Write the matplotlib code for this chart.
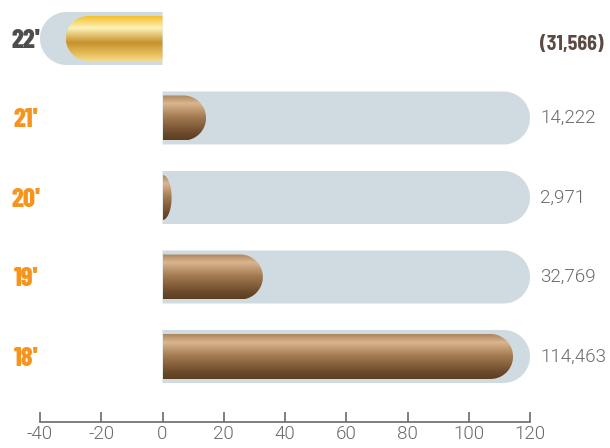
import numpy as np
import matplotlib
matplotlib.use('Agg')
import matplotlib.pyplot as plt
from matplotlib.patches import Polygon
from matplotlib.colors import LinearSegmentedColormap

years = ["22'", "21'", "20'", "19'", "18'"]
values = [-31.566, 14.222, 2.971, 32.769, 114.463]
value_labels = ['(31,566)', '14,222', '2,971', '32,769', '114,463']
xticks = [-40, -20, 0, 20, 40, 60, 80, 100, 120]

COND = ['Barlow Condensed', 'DejaVu Sans']
SEMI = ['Barlow Semi Condensed', 'DejaVu Sans']
LIGHT = ['Roboto', 'DejaVu Sans']
track_col = '#d0dbe1'
gold = LinearSegmentedColormap.from_list('gold', [
    (0.0, '#f4bb22'), (0.28, '#fdf2b8'), (0.6, '#c6922c'),
    (0.88, '#e9c462'), (1.0, '#f5dc90')])
bronze = LinearSegmentedColormap.from_list('bronze', [
    (0.0, '#a48058'), (0.2, '#dab58e'), (0.5, '#a27a52'),
    (0.85, '#6c4a2a'), (1.0, '#5c3e22')])

fig = plt.figure(figsize=(6.10, 4.48), dpi=100)
ax = fig.add_axes([40 / 610, 26 / 448, 490 / 610, 422 / 448])
ax.set_xlim(-40, 120)
ax.set_ylim(-0.824, 4.484)

# pixels per data unit, used to make the caps look round
px_x = 490 / 160.0
px_y = 79.5


def capsule(x0, x1, yc, h, round_left, round_right, n=40):
    rx = h * px_y / 2 / px_x
    ry = h / 2
    pts = []
    if round_right:
        cx = x1 - rx
        for t in np.linspace(-np.pi / 2, np.pi / 2, n):
            pts.append((cx + rx * np.cos(t), yc + ry * np.sin(t)))
    else:
        pts += [(x1, yc - ry), (x1, yc + ry)]
    if round_left:
        cx = x0 + rx
        for t in np.linspace(np.pi / 2, 3 * np.pi / 2, n):
            pts.append((cx + rx * np.cos(t), yc + ry * np.sin(t)))
    else:
        pts += [(x0, yc + ry), (x0, yc - ry)]
    return pts


def short_cap(x1, yc, h, n=40):
    # bar shorter than its cap radius: squashed half ellipse
    ry = h / 2
    return [(x1 * np.cos(t), yc + ry * np.sin(t)) for t in np.linspace(-np.pi / 2, np.pi / 2, n)]


track_h = 53 / px_y
bar_h = 45 / px_y
ypos = [4, 3, 2, 1, 0]

for yr, v, lab, yc in zip(years, values, value_labels, ypos):
    if v < 0:
        tr = capsule(-40, 0, yc, track_h, True, False)
        bar_pts = capsule(v, 0, yc, bar_h, True, False)
        cmap = gold
    else:
        tr = capsule(0, 120, yc, track_h, False, True)
        rx = bar_h * px_y / 2 / px_x
        bar_pts = capsule(0, v, yc, bar_h, False, True) if v > rx else short_cap(v, yc, bar_h)
        cmap = bronze
    ax.add_patch(Polygon(tr, closed=True, facecolor=track_col, edgecolor='none', zorder=1))
    clip = Polygon(bar_pts, closed=True, facecolor='none', edgecolor='none', zorder=2)
    ax.add_patch(clip)
    grad = np.linspace(0, 1, 256).reshape(-1, 1)
    x0, x1 = min(0, v), max(0, v)
    im = ax.imshow(grad, cmap=cmap, aspect='auto', origin='upper',
                   extent=(x0, x1, yc - bar_h / 2, yc + bar_h / 2), zorder=2,
                   interpolation='bilinear')
    im.set_clip_path(clip)

    ycen = 1 - (38.5 + (4 - yc) * px_y) / 448
    ycol = '#4d4d4d' if v < 0 else '#f7941d'
    fig.text(26 / 610, ycen - 2 / 448, yr, ha='center', va='center',
             fontsize=19, fontweight=800, color=ycol, family=COND)
    if v < 0:
        fig.text(540 / 610, ycen - 5.5 / 448, lab, ha='left', va='center',
                 fontsize=14.5, fontweight='bold', color='#5a4a42', family=SEMI)
    else:
        fig.text(540 / 610, ycen, lab, ha='left', va='center',
                 fontsize=13.5, fontweight=300, color='#6a6a6a', family=LIGHT)

ax.set_xlim(-40, 120)
ax.set_ylim(-0.824, 4.484)
for s in ['top', 'right', 'left']:
    ax.spines[s].set_visible(False)
ax.spines['bottom'].set_color('#6a6a6a')
ax.spines['bottom'].set_linewidth(1.2)
ax.set_yticks([])
ax.set_xticks(xticks)
ax.set_xticklabels([str(t) for t in xticks], family=LIGHT, fontweight=300,
                   fontsize=13.5, color='#6a6a6a')
ax.tick_params(axis='x', direction='in', length=7, width=1.2, color='#6a6a6a', pad=2)

fig.savefig('out.png', dpi=100)
